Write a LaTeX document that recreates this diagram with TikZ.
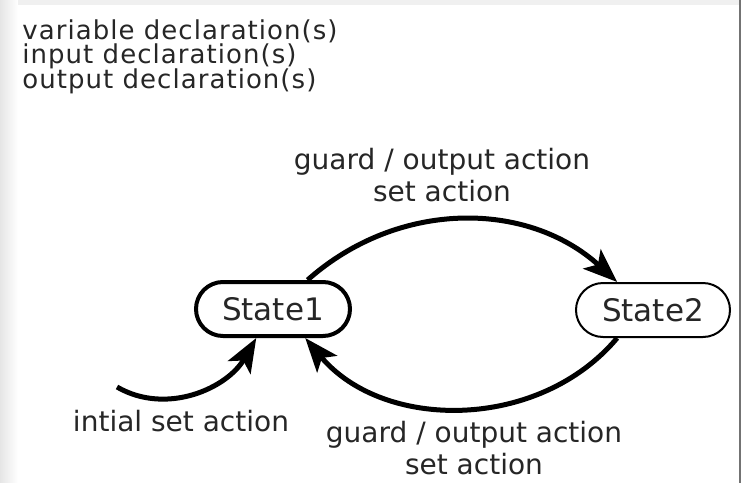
\documentclass[tikz,border=0pt]{standalone}
\usepackage{fontspec}
\setmainfont{DejaVu Sans}
\newfontfamily\declfont[LetterSpace=4]{DejaVu Sans}
\usetikzlibrary{arrows.meta}
\usetikzlibrary{shapes.misc}

\begin{document}
\begin{tikzpicture}[x=0.5pt, y=0.5pt,
    state/.style={rounded rectangle, draw, minimum width=77pt, minimum height=27pt,
        inner sep=0pt, text=black!85, font=\fontsize{15.5}{18}\selectfont},
    trans/.style={-{Stealth[length=17pt,width=13pt,inset=4pt]}, line width=2.5pt},
    decl/.style={inner sep=0pt, anchor=base west, text=black!85,
        font=\declfont\fontsize{13}{15}\selectfont},
    lbl/.style={inner sep=0pt, align=center, text=black!85, font=\fontsize{14}{16}\selectfont}]
    \useasboundingbox (0,0) rectangle (741,-483);
    \fill[white] (0,0) rectangle (741,-483);
    \shade[left color=black!10, right color=white] (0,0) rectangle (18,-483);
    \fill[black!6] (18,0) rectangle (741,-5);
    \fill[black!55] (739,0) rectangle (741,-483);
    % declarations
    \node[decl] (vars) at (22,-39) {variable declaration(s)};
    \node[decl] (ins) at (22,-63) {input declaration(s)};
    \node[decl] (outs) at (22,-88) {output declaration(s)};
    % states
    \node[state, line width=2pt] (s1) at (273,-309) {State1};
    \node[state, line width=1pt] (s2) at (653,-310) {State2};
    % transitions
    \coordinate (init) at (117,-387);
    \draw[trans] (init) to[out=-30, in=240] (s1.240);
    \draw[trans] (s1.40) to[bend left=42] (s2.142);
    \draw[trans] (s2.218) to[bend left=50] (s1.318);
    \node[lbl, anchor=base] (initlbl) at (181,-431) {intial set action};
    \node[lbl, anchor=north] (toplbl) at (442,-148) {guard / output action\\set action};
    \node[lbl, anchor=north] (botlbl) at (474,-421) {guard / output action\\set action};
\end{tikzpicture}
\end{document}
